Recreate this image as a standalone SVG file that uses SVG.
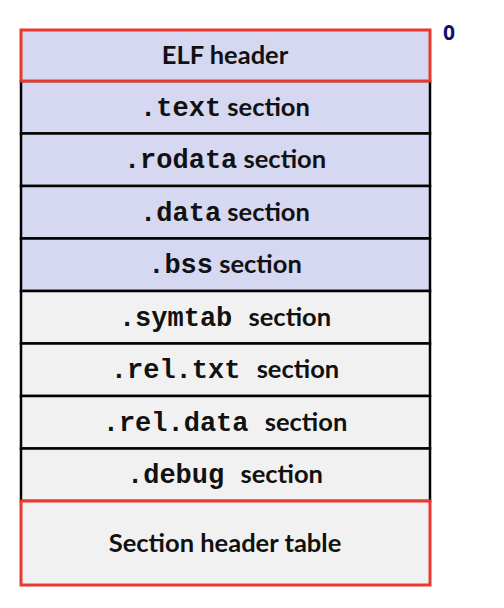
<svg xmlns="http://www.w3.org/2000/svg" width="504" height="608" viewBox="0 0 504 608">
<style>
.blue{fill:#D6D7F1;stroke:#000;stroke-width:2.5}
.gray{fill:#F1F1F1;stroke:#000;stroke-width:2.5}
.red{fill:none;stroke:#E8392F;stroke-width:3}
.t{font-family:Lato,"Liberation Sans",sans-serif;font-weight:bold;font-size:25.5px;fill:#111;text-anchor:middle}
.m{font-family:"Liberation Mono",monospace;font-weight:bold;font-size:27px}
.z{font-family:"Open Sans","Liberation Sans",sans-serif;font-weight:bold;font-size:21px;fill:#0D1470}
</style>
<rect width="504" height="608" fill="#fff"/>
<g id="text-sec"><rect class="blue" x="21" y="81" width="409" height="52.5"/><text class="t" x="225" y="115.5"><tspan class="m">.text</tspan> section</text></g>
<g id="rodata-sec"><rect class="blue" x="21" y="133.5" width="409" height="52.5"/><text class="t" x="225" y="168"><tspan class="m">.rodata</tspan> section</text></g>
<g id="data-sec"><rect class="blue" x="21" y="186" width="409" height="52.5"/><text class="t" x="225" y="220.5"><tspan class="m">.data</tspan> section</text></g>
<g id="bss-sec"><rect class="blue" x="21" y="238.5" width="409" height="52.5"/><text class="t" x="225" y="273"><tspan class="m">.bss</tspan> section</text></g>
<g id="symtab-sec"><rect class="gray" x="21" y="291" width="409" height="52.5"/><text class="t" x="225" y="325.5"><tspan class="m">.symtab </tspan>section</text></g>
<g id="reltxt-sec"><rect class="gray" x="21" y="343.5" width="409" height="52.5"/><text class="t" x="225" y="378"><tspan class="m">.rel.txt </tspan>section</text></g>
<g id="reldata-sec"><rect class="gray" x="21" y="396" width="409" height="52.5"/><text class="t" x="225" y="430.5"><tspan class="m">.rel.data </tspan>section</text></g>
<g id="debug-sec"><rect class="gray" x="21" y="448.5" width="409" height="52.5"/><text class="t" x="225" y="483"><tspan class="m">.debug </tspan>section</text></g>
<g id="elf-header"><rect fill="#D6D7F1" x="21" y="30" width="409" height="51"/><rect class="red" x="21" y="30" width="409" height="51"/><text class="t" x="225" y="64">ELF header</text></g>
<g id="sht"><rect fill="#F1F1F1" x="21" y="501" width="409" height="84"/><rect class="red" x="21" y="501" width="409" height="84"/><text class="t" x="225" y="552">Section header table</text></g>
<g id="offset"><text class="z" x="443" y="40">0</text></g>
<g id="connectors"/>
</svg>
